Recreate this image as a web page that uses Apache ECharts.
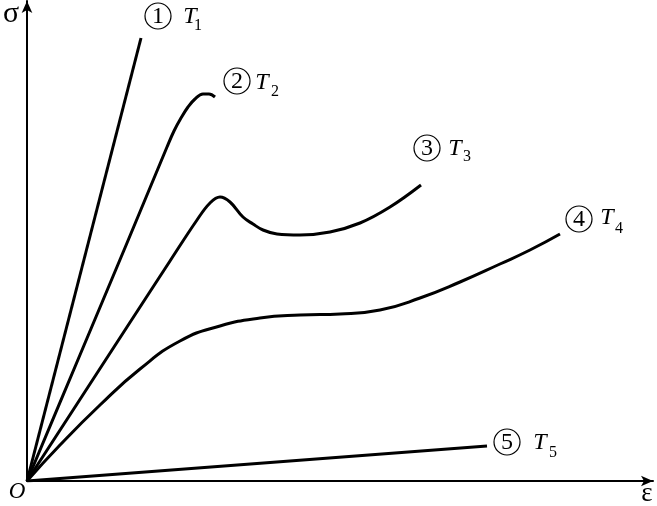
<!DOCTYPE html>
<html>
<head>
<meta charset="utf-8">
<script src="https://cdn.jsdelivr.net/npm/echarts@6/dist/echarts.min.js"></script>
<style>html,body{margin:0;padding:0;background:#fff;}#c{width:657px;height:506px;}</style>
</head>
<body>
<div id="c"></div>
<script>
// strain (x) / stress (y) in arbitrary units
const t1 = [[0,0],[114,443]];
const t2 = [[0,0],[50,119],[100,238],[140,334],[147,350],[154,363],[161,374],[168,382],[176,387],[182,387],[188,384]];
const t3 = [[0,0],[50,77],[100,154],[143,220],[170,261],[183,278],[193,284],[203,279],[216,264],[226,257],[236,251],[250,247],[273,246],[303,249],[333,258],[363,274],[394,296]];
const t4 = [[0,0],[33,36],[73,76],[113,112],[153,140],[193,155],[233,163],[273,166],[313,167],[353,171],[393,183],[433,199],[473,217],[503,231],[533,247]];
const t5 = [[0,0],[460,35]];
const seriesNames = ['T1','T2','T3','T4','T5'];
const digits = ['1','2','3','4','5'];

const chart = echarts.init(document.getElementById('c'));
const lineStyle = {color:'#000', width:3};
function mk(name, data, smooth){
  return {name, type:'line', data, smooth, symbol:'none', lineStyle, animation:false};
}
// label anchor positions [circle, T, subscript]
const labelPos = [
  [[158,16],[190,17],[198,26]],
  [[237,81],[262,83],[275,92]],
  [[427,148],[455,149],[467,157]],
  [[579,219],[607,218],[619,229]],
  [[507,442],[540,443],[553,453]]
];
const graphics = [];
labelPos.forEach((p,i)=>{
  graphics.push({type:'circle', shape:{cx:p[0][0], cy:p[0][1], r:13}, style:{fill:'none', stroke:'#000', lineWidth:1.2}});
  graphics.push({type:'text', x:p[0][0], y:p[0][1]+1, style:{text:digits[i], fontFamily:'Liberation Serif', fontSize:24, fill:'#000', textAlign:'center', textVerticalAlign:'middle'}});
  graphics.push({type:'text', x:p[1][0], y:p[1][1], style:{text:'T', fontFamily:'Liberation Serif', fontStyle:'italic', fontSize:24, fill:'#000', textAlign:'center', textVerticalAlign:'middle'}});
  graphics.push({type:'text', x:p[2][0], y:p[2][1], style:{text:digits[i], fontFamily:'Liberation Serif', fontSize:16, fill:'#000', textAlign:'center', textVerticalAlign:'middle'}});
});
graphics.push({type:'text', x:11, y:14, style:{text:'σ', fontFamily:'Liberation Serif', fontSize:30, fill:'#000', textAlign:'center', textVerticalAlign:'middle'}});
graphics.push({type:'text', x:647, y:494, style:{text:'ε', fontFamily:'Liberation Serif', fontSize:27, fill:'#000', textAlign:'center', textVerticalAlign:'middle'}});
graphics.push({type:'text', x:17, y:492, style:{text:'O', fontFamily:'Liberation Serif', fontStyle:'italic', fontSize:23, fill:'#000', textAlign:'center', textVerticalAlign:'middle'}});

const axisCommon = {
  type:'value', min:0,
  axisLine:{show:true, onZero:false, symbol:['none','arrow'], symbolSize:[8,12], lineStyle:{color:'#000', width:2}},
  axisTick:{show:false}, axisLabel:{show:false}, splitLine:{show:false}
};
chart.setOption({
  animation:false,
  backgroundColor:'#fff',
  grid:{left:27, right:4, top:1, bottom:25},
  xAxis:Object.assign({}, axisCommon, {max:626}),
  yAxis:Object.assign({}, axisCommon, {max:480}),
  series:[
    mk(seriesNames[0], t1, false),
    mk(seriesNames[1], t2, 0.4),
    mk(seriesNames[2], t3, 0.4),
    mk(seriesNames[3], t4, 0.5),
    mk(seriesNames[4], t5, false)
  ],
  graphic:graphics
});
</script>
</body>
</html>
